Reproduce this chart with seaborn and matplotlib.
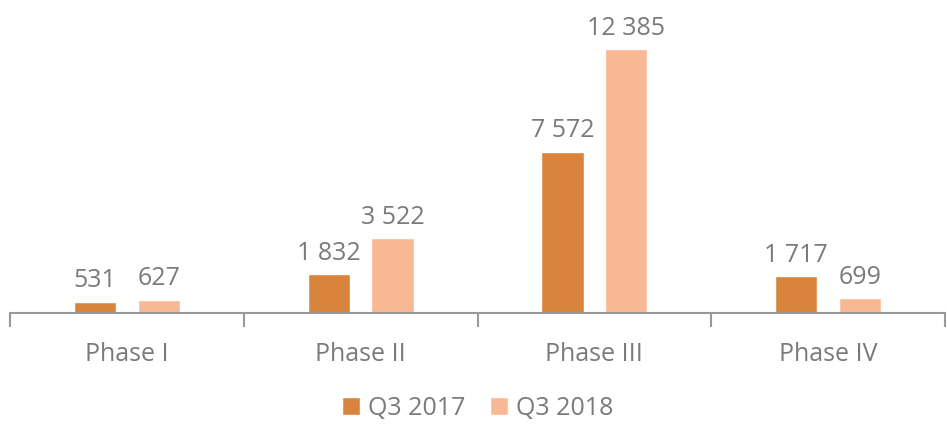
import pandas as pd
import numpy as np
import matplotlib
matplotlib.use('Agg')
import matplotlib.pyplot as plt
import seaborn as sns

# data
phases = ['Phase I', 'Phase II', 'Phase III', 'Phase IV']
q3_2017 = [531, 1832, 7572, 1717]
q3_2018 = [627, 3522, 12385, 699]
series = ['Q3 2017', 'Q3 2018']
colors = ['#D9843D', '#F9B894']
text_gray = '#7a7a7a'

df = pd.DataFrame({
    'phase': phases * 2,
    'value': q3_2017 + q3_2018,
    'series': [series[0]] * 4 + [series[1]] * 4,
})

sns.set_theme(style='white')
plt.rcParams['font.family'] = ['Open Sans', 'DejaVu Sans']

fig = plt.figure(figsize=(9.47, 4.24), dpi=100)
ax = fig.add_axes([10 / 947, 1 - 313 / 424, 935 / 947, 313 / 424])

sns.barplot(data=df, x='phase', y='value', hue='series', palette=colors,
            saturation=1, width=0.547, gap=0.34, ax=ax, legend=True)

for cont in ax.containers:
    labels = [f'{int(v.get_height()):,}'.replace(',', ' ') for v in cont]
    ax.bar_label(cont, labels=labels, padding=6, fontsize=18, color=text_gray)

ax.set_ylim(0, 14684)
ax.set_xlim(-0.5, 3.5)
ax.set_yticks([])
ax.set_xlabel('')
ax.set_ylabel('')
for s in ['top', 'right', 'left']:
    ax.spines[s].set_visible(False)
ax.spines['bottom'].set_color('#999999')
ax.spines['bottom'].set_linewidth(1.5)

ax.set_xticks(range(4))
ax.set_xticklabels(phases, fontsize=18, color=text_gray)
ax.set_xticks(np.arange(-0.5, 4, 1), minor=True)
ax.tick_params(axis='x', which='major', length=0, pad=21)
ax.tick_params(axis='x', which='minor', length=10, width=1.5, color='#999999', direction='out')
ax.xaxis.set_tick_params(bottom=True, which='both')

leg = ax.legend(loc='center', bbox_to_anchor=(0.5, -0.305), ncol=2, frameon=False,
                fontsize=18, handlelength=0.72, handleheight=0.72, handletextpad=0.3,
                columnspacing=1.0)
for t in leg.get_texts():
    t.set_color(text_gray)

fig.savefig('out.png', dpi=100)
